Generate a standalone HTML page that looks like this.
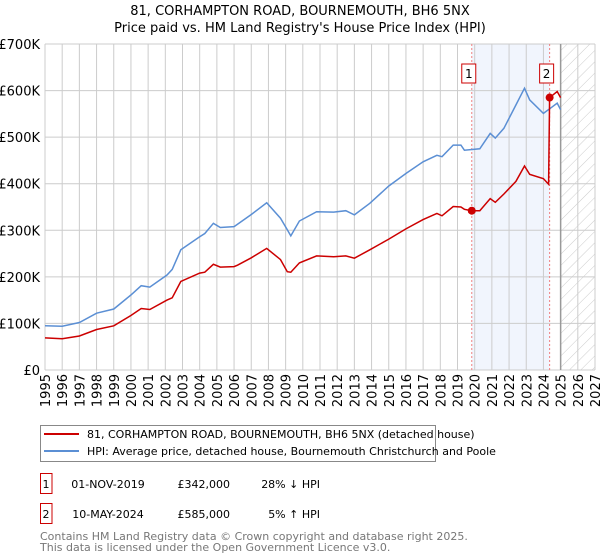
<!DOCTYPE html>
<html><head><meta charset="utf-8"><style>
body{margin:0;background:#fff;font-family:"DejaVu Sans","Liberation Sans",sans-serif;}
#wrap{position:relative;width:600px;height:560px;overflow:hidden}
svg text{font-family:"DejaVu Sans","Liberation Sans",sans-serif}
</style></head><body><div id="wrap">
<svg id="chart" width="600" height="560"></svg>
</div>
<script>
const hpiYears=[1995,1996,1997,1998,1999,2000,2000.6,2001.1,2002.1,2002.4,2002.9,2004,2004.3,2004.8,2005.2,2006,2006.2,2007,2007.9,2008.7,2009.1,2009.3,2009.8,2010.8,2011.8,2012.5,2013,2013.9,2015,2016,2017,2017.8,2018.1,2018.75,2019.2,2019.4,2020.3,2020.9,2021.2,2021.7,2022.4,2022.9,2023.2,2024,2024.4,2024.8,2025];
const hpiValues=[95,94,102,122,131,161,181,178,204,216,258,286,293,315,306,308,313,334,359,326,301,288,320,340,339,342,333,358,395,422,447,461,458,483,483,472,475,508,498,519,569,605,580,551,562,573,559];
const priceYears=[1995,1996,1997,1998,1999,2000,2000.6,2001.1,2002.1,2002.4,2002.9,2004,2004.3,2004.8,2005.2,2006,2006.2,2007,2007.9,2008.7,2009.1,2009.3,2009.8,2010.8,2011.8,2012.5,2013,2013.9,2015,2016,2017,2017.8,2018.1,2018.75,2019.2,2019.4,2019.83,2020.3,2020.9,2021.2,2021.7,2022.4,2022.9,2023.2,2024,2024.3,2024.36,2024.8,2025];
const priceValues=[69,67,73,87,95,117,132,130,150,155,190,208,210,227,221,222,225,241,261,237,211,210,230,245,243,245,240,258,281,303,323,336,331,351,350,345,342,342,368,360,378,405,438,420,411,399,585,598,585];
const saleYears=[2019.83,2024.36];
const saleValues=[342,585];
const saleLabels=["1","2"];
const yTicks=[0,100,200,300,400,500,600,700];
const yTickLabels=["£0","£100K","£200K","£300K","£400K","£500K","£600K","£700K"];
const xTicks=[1995,1996,1997,1998,1999,2000,2001,2002,2003,2004,2005,2006,2007,2008,2009,2010,2011,2012,2013,2014,2015,2016,2017,2018,2019,2020,2021,2022,2023,2024,2025,2026,2027];

const NS="http://www.w3.org/2000/svg";
const svg=document.getElementById('chart');
const L=45,R=595,T=44,B=370;
const xs=y=>L+(y-1995)/(2027-1995)*(R-L);
const ys=v=>B-v/700*(B-T);
function mk(tag,attrs,parent){const e=document.createElementNS(NS,tag);for(const k in attrs)e.setAttribute(k,attrs[k]);(parent||svg).appendChild(e);return e;}

// defs hatch
const defs=mk('defs',{});
const pat=mk('pattern',{id:'hatch',width:8,height:8,patternUnits:'userSpaceOnUse',patternTransform:'rotate(45)'},defs);
mk('line',{x1:0,y1:0,x2:0,y2:8,stroke:'#ccc','stroke-width':1},pat);

let t=mk('text',{x:300,y:15,'text-anchor':'middle','font-size':13,fill:'#000'});t.textContent="81, CORHAMPTON ROAD, BOURNEMOUTH, BH6 5NX";

t=mk('text',{x:300,y:32,'text-anchor':'middle','font-size':13,fill:'#000'});t.textContent="Price paid vs. HM Land Registry's House Price Index (HPI)";


// shaded region between sales
let sh=mk('rect',{x:xs(saleYears[0]),y:T,width:xs(saleYears[1])-xs(saleYears[0]),height:B-T,fill:'#eef3fd',opacity:0.8});

// hatch future
let hz=mk('rect',{x:xs(2025),y:T,width:R-xs(2025),height:B-T,fill:'url(#hatch)'});


// grid
yTicks.forEach((v,i)=>{
  const g=mk('line',{x1:L,x2:R,y1:ys(v),y2:ys(v),stroke:'#ccc','stroke-width':1});
  
  const tx=mk('text',{x:L-5,y:ys(v)+5,'text-anchor':'end','font-size':13,fill:'#000'});tx.textContent=yTickLabels[i];
  
});
xTicks.forEach(yr=>{
  const g=mk('line',{x1:xs(yr),x2:xs(yr),y1:T,y2:B,stroke:'#ccc','stroke-width':1});
  
  const tx=mk('text',{x:0,y:0,'text-anchor':'end','font-size':13,fill:'#000',transform:`translate(${xs(yr)+5},${B+4}) rotate(-90)`});tx.textContent=yr;
  
});
let fl=mk('line',{x1:xs(2025),x2:xs(2025),y1:T,y2:B,stroke:'#999','stroke-width':1.5});


// sale dashed lines
saleYears.forEach((yr,i)=>{
  const l=mk('line',{x1:xs(yr),x2:xs(yr),y1:T,y2:B,stroke:'#f08080','stroke-width':1,'stroke-dasharray':'2,2'});
  
  const bx=xs(yr)-7-(i===1?0:3);
  const r=mk('rect',{x:xs(yr)-10,y:64,width:14,height:19,fill:'#fff',stroke:'#c00','stroke-width':1});
  
  const tx=mk('text',{x:xs(yr)-3,y:78,'text-anchor':'middle','font-size':12,fill:'#000'});tx.textContent=saleLabels[i];
  
});

function path(xa,va){return xa.map((x,i)=>(i?'L':'M')+xs(x).toFixed(1)+','+ys(va[i]).toFixed(1)).join('');}
let hp=mk('path',{d:path(hpiYears,hpiValues),fill:'none',stroke:'#5b8fd4','stroke-width':1.5});

let pp=mk('path',{d:path(priceYears,priceValues),fill:'none',stroke:'#cc0000','stroke-width':1.5});

saleYears.forEach((yr,i)=>{
  const d=mk('circle',{cx:xs(yr),cy:ys(saleValues[i]),r:4,fill:'#cc0000'});
  
});

// legend
let lg=mk('rect',{x:40.5,y:425.5,width:395,height:36,fill:'#fff',stroke:'#888','stroke-width':1});

mk('line',{x1:44,x2:79,y1:434,y2:434,stroke:'#cc0000','stroke-width':2});
mk('line',{x1:44,x2:79,y1:451,y2:451,stroke:'#5b8fd4','stroke-width':2});
t=mk('text',{x:87,y:438,'font-size':11,fill:'#000'});t.textContent="81, CORHAMPTON ROAD, BOURNEMOUTH, BH6 5NX (detached house)";

t=mk('text',{x:87,y:455,'font-size':11,fill:'#000'});t.textContent="HPI: Average price, detached house, Bournemouth Christchurch and Poole";


// table
const rows=[["1","01-NOV-2019","£342,000","28% ↓ HPI",483],["2","10-MAY-2024","£585,000","5% ↑ HPI",513]];
rows.forEach(r=>{
  const b=mk('rect',{x:40.5,y:r[4]-9.5,width:11.5,height:20,fill:'#fff',stroke:'#c00','stroke-width':1});
  
  let a=mk('text',{x:46,y:r[4]+5,'text-anchor':'middle','font-size':11});a.textContent=r[0];
  
  a=mk('text',{x:108,y:r[4]+5,'text-anchor':'middle','font-size':11});a.textContent=r[1];
  
  a=mk('text',{x:230,y:r[4]+5,'text-anchor':'end','font-size':11});a.textContent=r[2];
  
  a=mk('text',{x:320,y:r[4]+5,'text-anchor':'end','font-size':11});a.textContent=r[3];
  
});
t=mk('text',{x:40,y:540,'font-size':11,fill:'#777'});t.textContent="Contains HM Land Registry data © Crown copyright and database right 2025.";

t=mk('text',{x:40,y:551,'font-size':11,fill:'#777'});t.textContent="This data is licensed under the Open Government Licence v3.0.";

</script></body></html>
